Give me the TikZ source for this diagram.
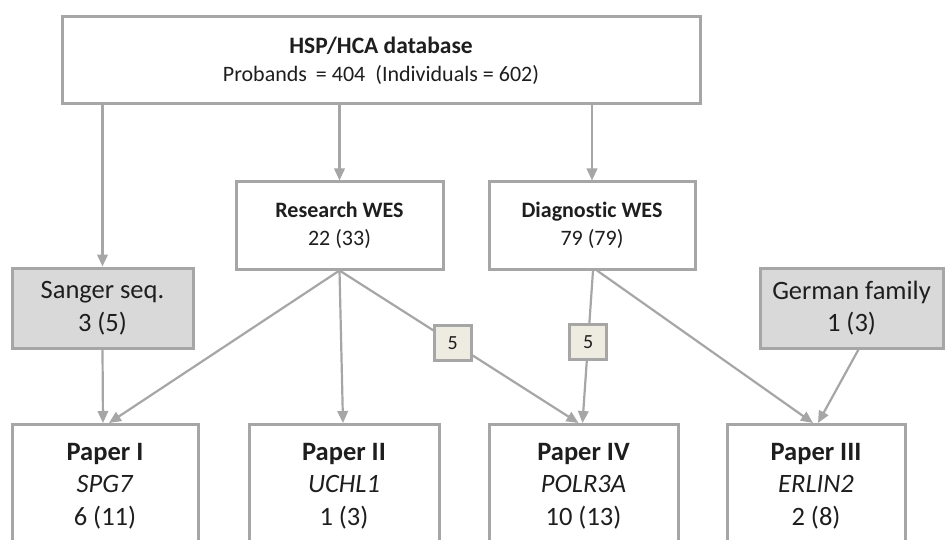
\documentclass[tikz,border=0pt]{standalone}
\usepackage{fontspec}
\setmainfont{Carlito}[Ligatures={NoCommon}]
\usetikzlibrary{arrows.meta,calc}
\definecolor{edgegray}{HTML}{A6A6A6}
\definecolor{shade}{HTML}{D9D9D9}
\definecolor{tagfill}{HTML}{EEECE1}
\definecolor{ink}{HTML}{1E1E1E}

\begin{document}
\begin{tikzpicture}[x=1pt,y=-1pt,
  frame/.style={draw=edgegray, line width=3pt, fill=white, inner sep=0pt, align=center, text=ink},
  shaded/.style={frame, fill=shade},
  tag/.style={draw=edgegray, line width=2.5pt, fill=tagfill, minimum width=37pt, minimum height=35pt,
              inner sep=0pt, font=\fontsize{20}{22}\selectfont, text=ink},
  link/.style={draw=edgegray, line width=2.2pt, -{Triangle[length=12pt,width=10.5pt]}},
  big/.style={font=\fontsize{22}{28}\selectfont},
  large/.style={font=\fontsize{26.5}{32.5}\selectfont},
  caption/.style={large, align=center, anchor=base, text=ink, inner sep=0pt}]
\useasboundingbox (0,0) rectangle (945,540);

% source database
\node[frame, big, minimum width=638pt, minimum height=87pt] (db) at (381,60.5)
  {{\fontsize{23.5}{28}\selectfont\textbf{HSP/HCA database}}\\Probands\hspace{4pt} = 404\ \ (Individuals = 602)};

% sequencing routes
\node[frame, big, minimum width=207pt, minimum height=87pt] (rw) at (339.5,225.5)
  {\textbf{Research WES}\\22 (33)};
\node[frame, big, minimum width=206pt, minimum height=87pt] (dw) at (592,225.5)
  {\textbf{Diagnostic WES}\\79 (79)};
\node[shaded, large, minimum width=181pt, minimum height=80pt] (sg) at (102.5,308)
  {Sanger seq.\\3 (5)};
\node[shaded, large, minimum width=183pt, minimum height=80pt] (gf) at (851.5,308)
  {German family\\1 (3)};

% papers (frames run past the lower edge)
\node[frame, minimum width=186pt, minimum height=150pt, anchor=north] (p1) at (105,423) {};
\node[frame, minimum width=190pt, minimum height=150pt, anchor=north] (p2) at (344,423) {};
\node[frame, minimum width=189pt, minimum height=150pt, anchor=north] (p4) at (583.5,423) {};
\node[frame, minimum width=178pt, minimum height=150pt, anchor=north] (p3) at (816,423) {};

% captions: the base anchor sits on the last line
\node[caption] (p1t) at (105,525) {\textbf{Paper I}\\\textit{SPG7}\\6 (11)};
\node[caption] (p2t) at (344,525) {\textbf{Paper II}\\\textit{UCHL1}\\1 (3)};
\node[caption] (p4t) at (583.5,525) {\textbf{Paper IV}\\\textit{POLR3A}\\10 (13)};
\node[caption] (p3t) at (816,525) {\textbf{Paper III}\\\textit{ERLIN2}\\2 (8)};

% connectors
\draw[link] (sg.north |- db.south) -- (sg.north);
\draw[link] (rw.north |- db.south) -- (rw.north);
\draw[link] (dw.north |- db.south) -- (dw.north);
\draw[link] (sg.south) -- ([xshift=-2pt]p1.north);
\draw[link] (rw.south) -- ([xshift=4pt]p1.north);
\draw[link] (rw.south) -- ([xshift=-1pt]p2.north);
\draw[link] (rw.south) -- node[tag, pos=0.474] (n1) {5} ([xshift=-5pt]p4.north);
\draw[link] ([xshift=1pt]dw.south) -- node[tag, pos=0.47] (n2) {5} ([xshift=-1pt]p4.north);
\draw[link] ([xshift=5pt]dw.south) -- ([xshift=-3pt]p3.north);
\draw[link] ([xshift=7pt]gf.south) -- ([xshift=2pt]p3.north);
\end{tikzpicture}
\end{document}
